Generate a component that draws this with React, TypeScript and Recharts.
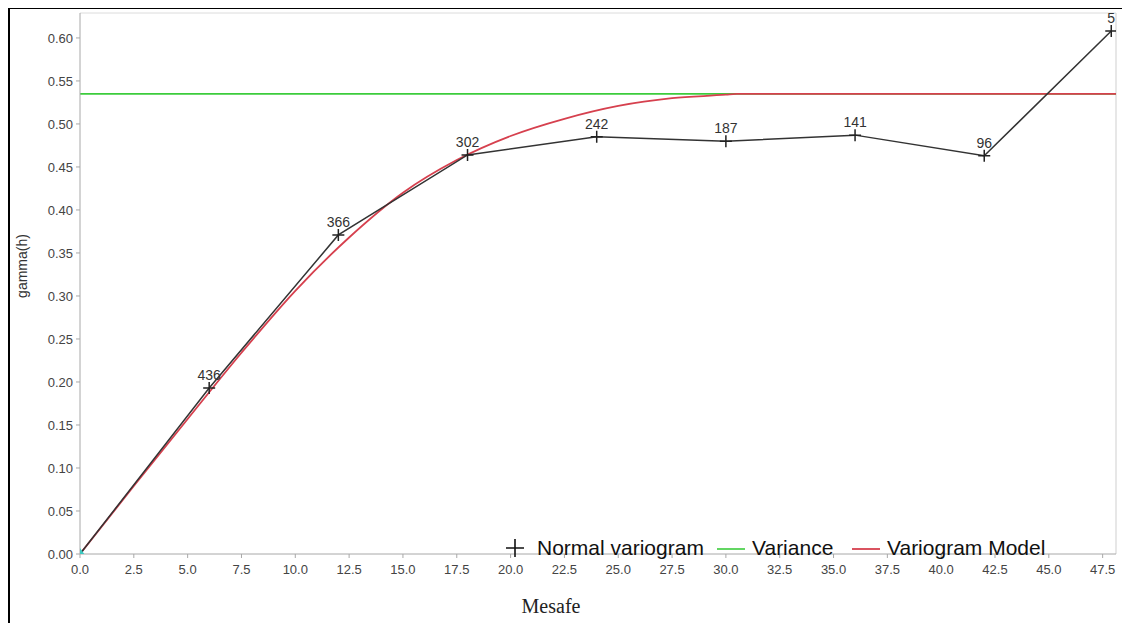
import { ComposedChart, Line, XAxis, YAxis, LabelList, Label, ReferenceLine } from "recharts";

// experimental variogram (lag distance, gamma, number of pairs)
const lagDistances = [0, 6, 12, 18, 24, 30, 36, 42, 47.9];
const gammaValues = [0, 0.193, 0.371, 0.464, 0.485, 0.48, 0.487, 0.463, 0.608];
const pairCounts = ["", "436", "366", "302", "242", "187", "141", "96", "5"];

// fitted model curve
const modelLags = [0, 2.5, 5, 7.5, 10, 12.5, 15, 17.5, 20, 22.5, 25, 27.5, 30, 30.5, 48.12];
const modelGamma = [0, 0.079, 0.157, 0.234, 0.306, 0.368, 0.42, 0.458, 0.486, 0.506, 0.521, 0.53, 0.534, 0.535, 0.535];

// sample variance
const varianceLags = [0, 48.12];
const varianceGamma = [0.535, 0.535];

const xTicks = [0, 2.5, 5, 7.5, 10, 12.5, 15, 17.5, 20, 22.5, 25, 27.5, 30, 32.5, 35, 37.5, 40, 42.5, 45, 47.5];
const yTicks = [0, 0.05, 0.1, 0.15, 0.2, 0.25, 0.3, 0.35, 0.4, 0.45, 0.5, 0.55, 0.6];

const X_MAX = 48.12;
const Y_MAX = 0.629;

const variogramData = lagDistances.map((x, i) => ({ x, y: gammaValues[i], n: pairCounts[i] }));
const modelData = modelLags.map((x, i) => ({ x, y: modelGamma[i] }));
const varianceData = varianceLags.map((x, i) => ({ x, y: varianceGamma[i] }));

const AXIS = "#a8a8a8";
const FONT = "Liberation Sans, Arial, sans-serif";
const TICK_TEXT = { fontSize: 13, fill: "#444", fontFamily: FONT };

function PlusDot(props: any) {
  const { cx, cy, index } = props;
  if (cx == null || cy == null) return null;
  if (index === 0) {
    return <path d={`M${cx - 5},${cy + 1}L${cx + 5},${cy + 1}L${cx},${cy - 6}Z`} fill="#3cc8c0" />;
  }
  return (
    <path d={`M${cx - 6},${cy}H${cx + 6}M${cx},${cy - 6}V${cy + 6}`} stroke="#222" strokeWidth={1.5} fill="none" />
  );
}

// legend row sits inside the plot, bottom right (positions relative to chart box)
const legendTop = 527;
const itemText = { position: "absolute" as const, top: legendTop, lineHeight: "26px", fontSize: 21, fontFamily: FONT, color: "#111", whiteSpace: "nowrap" as const };

export default function App() {
  return (
    <div style={{ position: "relative", width: 1114, height: 615 }}>
      <ComposedChart width={1114} height={615} margin={{ top: 5, right: 6, left: 0, bottom: 39 }}>
        <XAxis
          type="number"
          dataKey="x"
          domain={[0, X_MAX]}
          ticks={xTicks}
          tickFormatter={(v: number) => v.toFixed(1)}
          tick={TICK_TEXT}
          stroke={AXIS}
          tickSize={4}
          tickMargin={7}
          height={30}
          allowDataOverflow
        >
          <Label
            content={() => (
              <text x={543} y={598} textAnchor="middle" dominantBaseline="central" fontSize={20} fill="#222" fontFamily="Liberation Serif, serif">
                Mesafe
              </text>
            )}
          />
        </XAxis>
        <YAxis
          type="number"
          domain={[0, Y_MAX]}
          ticks={yTicks}
          tickFormatter={(v: number) => v.toFixed(2)}
          tick={TICK_TEXT}
          stroke={AXIS}
          tickSize={4}
          tickMargin={3}
          width={72}
          allowDataOverflow
        >
          <Label
            content={() => (
              <text x={14} y={258} transform="rotate(-90 14 258)" textAnchor="middle" dominantBaseline="central" fontSize={14} fill="#333" fontFamily={FONT}>
                gamma(h)
              </text>
            )}
          />
        </YAxis>
        <ReferenceLine y={Y_MAX} stroke="#dcdcdc" />
        <ReferenceLine x={X_MAX} stroke="#cfcfcf" />
        <Line data={varianceData} dataKey="y" stroke="#3ccc3c" strokeWidth={1.6} dot={false} isAnimationActive={false} />
        <Line data={modelData} dataKey="y" type="monotone" stroke="#d6404e" strokeWidth={1.8} dot={false} isAnimationActive={false} />
        <Line data={variogramData} dataKey="y" stroke="#333" strokeWidth={1.5} dot={<PlusDot />} isAnimationActive={false}>
          <LabelList dataKey="n" position="top" offset={8} style={{ fontSize: 14, fill: "#333", fontFamily: FONT }} />
        </Line>
      </ComposedChart>

      <svg width={20} height={20} style={{ position: "absolute", left: 497, top: legendTop + 3 }}>
        <path d="M1,10H19M10,1V19" stroke="#111" strokeWidth={1.6} />
      </svg>
      <span style={{ ...itemText, left: 529 }}>Normal variogram</span>
      <svg width={28} height={4} style={{ position: "absolute", left: 709, top: legendTop + 12 }}>
        <line x1={0} y1={2} x2={28} y2={2} stroke="#3ccc3c" strokeWidth={1.6} />
      </svg>
      <span style={{ ...itemText, left: 744 }}>Variance</span>
      <svg width={28} height={4} style={{ position: "absolute", left: 844, top: legendTop + 12 }}>
        <line x1={0} y1={2} x2={28} y2={2} stroke="#d6404e" strokeWidth={1.8} />
      </svg>
      <span style={{ ...itemText, left: 879 }}>Variogram Model</span>

      <div
        style={{
          position: "absolute",
          left: 0,
          top: -1,
          width: 1118,
          height: 620,
          borderTop: "2px solid #000",
          borderLeft: "2px solid #000",
          borderRight: "2px solid #000",
          boxSizing: "border-box",
          pointerEvents: "none",
        }}
      />
    </div>
  );
}
